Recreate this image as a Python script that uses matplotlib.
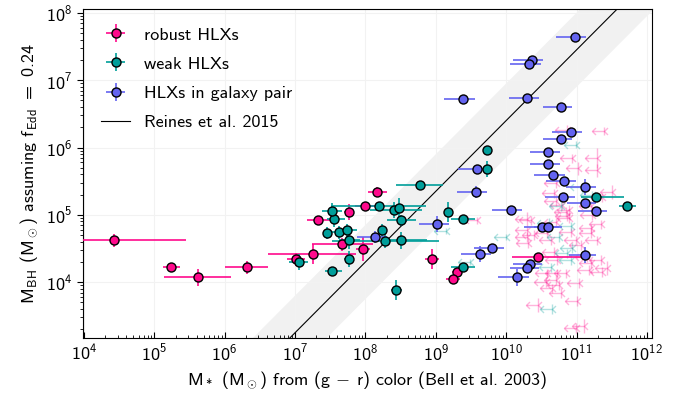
import numpy as np
import matplotlib.pyplot as plt
from matplotlib.path import Path

plt.rcParams['font.family'] = 'cmss10'
plt.rcParams['mathtext.fontset'] = 'custom'
plt.rcParams['mathtext.rm'] = 'cmss10'
plt.rcParams['mathtext.it'] = 'cmss10'
plt.rcParams['mathtext.bf'] = 'cmss10'
plt.rcParams['mathtext.sf'] = 'cmss10'
plt.rcParams['axes.unicode_minus'] = False

# log10 values; x errors in dex (low, high), y errors in dex
robust_lx = [4.43, 5.23, 5.62, 6.31, 7.01, 7.25, 7.67, 7.96, 7.33, 7.76, 8.00, 8.17, 8.94, 9.30, 9.25, 10.45]
robust_ly = [4.62, 4.22, 4.07, 4.22, 4.34, 4.42, 4.56, 4.49, 4.92, 5.04, 5.13, 5.34, 4.34, 4.15, 4.04, 4.37]
robust_xlo = [2.0, 0.11, 0.48, 0.31, 0.13, 0.64, 0.43, 0.09, 0.16, 0.07, 0.15, 0.13, 0.10, 0.07, 0.10, 0.37]
robust_xhi = [1.02, 0.13, 0.47, 0.31, 0.13, 0.62, 0.43, 0.10, 0.20, 0.07, 0.15, 0.13, 0.10, 0.07, 0.10, 0.62]
robust_ye = [0.10, 0.07, 0.12, 0.10, 0.10, 0.15, 0.10, 0.18, 0.07, 0.12, 0.06, 0.07, 0.15, 0.07, 0.07, 0.07]

weak_lx = [7.05, 7.53, 7.77, 7.77, 8.28, 8.51, 7.46, 7.63, 7.74, 7.55, 7.52, 8.19, 8.40,
           8.47, 8.51, 8.24, 8.77, 9.73, 9.73, 9.18, 9.39, 8.44, 9.39, 11.28, 11.72]
weak_ly = [4.30, 4.16, 4.34, 4.62, 4.61, 4.62, 4.73, 4.74, 4.77, 4.94, 5.05, 5.13, 5.07,
           5.10, 4.92, 4.77, 5.44, 5.96, 5.68, 5.04, 4.94, 3.88, 4.22, 5.26, 5.13]
weak_xlo = [0.13, 0.10, 0.07, 0.15, 0.76, 0.21, 0.05, 0.10, 0.07, 0.10, 0.14, 0.68, 0.34,
            0.05, 0.21, 0.05, 0.33, 0.05, 0.05, 0.05, 0.17, 0.08, 0.17, 0.21, 0.11]
weak_xhi = [0.13, 0.13, 0.07, 0.15, 0.77, 0.37, 0.05, 0.18, 0.14, 0.16, 0.14, 0.67, 0.40,
            0.05, 0.21, 0.05, 0.33, 0.05, 0.05, 0.05, 0.16, 0.08, 0.16, 0.40, 0.13]
weak_ye = [0.12, 0.06, 0.12, 0.12, 0.10, 0.12, 0.09, 0.10, 0.10, 0.12, 0.12, 0.06, 0.12,
           0.15, 0.08, 0.10, 0.05, 0.05, 0.12, 0.15, 0.05, 0.15, 0.05, 0.05, 0.06]

pair_lx = [8.13, 9.02, 9.59, 9.57, 9.80, 9.63, 10.07, 10.51, 10.60, 11.12, 10.34, 10.30, 10.16, 10.98, 10.37,
           10.33, 9.39, 10.30, 10.78, 10.92, 10.78, 10.60, 10.60, 10.67, 10.82, 11.12, 10.81, 11.12, 11.28]
pair_ly = [4.67, 4.86, 5.68, 5.34, 4.51, 4.42, 5.07, 4.82, 4.82, 4.40, 4.27, 4.21, 4.07, 7.64, 7.30,
           7.24, 6.72, 6.73, 6.60, 6.23, 6.12, 5.93, 5.75, 5.59, 5.50, 5.41, 5.26, 5.17, 5.05]
pair_xlo = [0.25, 0.26, 0.27, 0.27, 0.26, 0.27, 0.27, 0.26, 0.20, 0.23, 0.25, 0.25, 0.27, 0.27, 0.27,
            0.27, 0.27, 0.26, 0.26, 0.27, 0.26, 0.26, 0.26, 0.27, 0.26, 0.27, 0.26, 0.26, 0.26]
pair_xhi = [0.17, 0.17, 0.17, 0.16, 0.17, 0.16, 0.16, 0.24, 0.20, 0.16, 0.17, 0.17, 0.17, 0.16, 0.16,
            0.16, 0.16, 0.17, 0.16, 0.16, 0.16, 0.17, 0.17, 0.16, 0.17, 0.16, 0.17, 0.16, 0.16]
pair_ye = [0.09, 0.12, 0.04, 0.09, 0.04, 0.12, 0.04, 0.04, 0.04, 0.12, 0.04, 0.04, 0.12, 0.04, 0.04,
           0.04, 0.04, 0.04, 0.04, 0.04, 0.04, 0.04, 0.04, 0.04, 0.04, 0.12, 0.04, 0.04, 0.04]

# upper limits on stellar mass (arrows)
ul_pink_lx = [10.87, 11.39, 10.94, 11.29, 11.02, 11.29, 10.71, 10.68, 11.50, 10.71, 11.36, 11.21, 10.85, 10.89,
              11.22, 11.35, 10.71, 10.30, 10.30, 10.30, 10.31, 10.40, 10.58, 10.64, 10.92, 10.99, 11.06, 11.21,
              11.29, 11.21, 10.87, 10.68, 10.72, 11.15, 11.21, 11.35, 11.43, 11.18, 10.58, 10.72, 10.85, 10.57,
              10.71, 10.75, 11.04, 10.45, 11.01, 10.99, 11.11, 11.36, 10.65, 10.78, 10.79, 10.89, 10.35, 9.59]
ul_pink_ly = [6.26, 6.24, 5.84, 5.84, 5.69, 5.66, 5.47, 5.32, 5.34, 5.20, 5.26, 5.13, 5.04, 4.95,
              5.00, 4.86, 4.89, 4.94, 4.77, 4.67, 4.58, 4.70, 4.73, 4.62, 4.74, 4.62, 4.55, 4.73,
              4.62, 4.80, 4.98, 4.45, 4.33, 4.37, 4.28, 4.33, 4.21, 4.18, 4.13, 4.13, 4.13, 4.00,
              4.03, 3.96, 3.99, 3.66, 3.72, 3.32, 3.35, 4.15, 3.91, 3.84, 5.14, 5.07, 4.92, 4.92]
ul_pink_ye = [0.07, 0.06, 0.07, 0.15, 0.10, 0.10, 0.07, 0.07, 0.10, 0.07, 0.07, 0.07, 0.07, 0.07,
              0.07, 0.07, 0.07, 0.10, 0.07, 0.07, 0.07, 0.07, 0.07, 0.07, 0.07, 0.07, 0.07, 0.07,
              0.07, 0.07, 0.07, 0.07, 0.07, 0.07, 0.07, 0.07, 0.10, 0.07, 0.07, 0.07, 0.07, 0.07,
              0.07, 0.07, 0.07, 0.10, 0.08, 0.07, 0.10, 0.07, 0.07, 0.07, 0.07, 0.07, 0.07, 0.05]
ul_teal_lx = [10.99, 11.08, 11.22, 10.78, 10.61, 10.00, 10.75, 10.92, 10.94, 10.87, 10.92, 10.64, 10.65, 9.15, 9.48]
ul_teal_ly = [6.04, 5.41, 5.29, 5.13, 4.88, 4.67, 4.67, 4.83, 4.51, 4.43, 4.33, 4.22, 3.60, 4.76, 4.30]
ul_teal_ye = [0.05, 0.07, 0.07, 0.07, 0.07, 0.05, 0.07, 0.07, 0.07, 0.07, 0.07, 0.07, 0.08, 0.05, 0.05]

pink = '#ff0a8c'
teal = '#009e9a'
blue = '#6464f0'

fig = plt.figure(figsize=(6.89, 4.01), dpi=100)
ax = fig.add_axes([0.1205, 0.157, 0.8255, 0.821])
ax.set_xscale('log')
ax.set_yscale('log')

# Reines et al. 2015 relation with scatter
xs = np.logspace(3.5, 12.5, 200)
lbh = 7.45 + 1.05 * (np.log10(xs) - 11)
ax.fill_between(xs, 10**(lbh - 0.55), 10**(lbh + 0.55), color='#f1f1f1', lw=0, zorder=0.5)
reines, = ax.plot(xs, 10**lbh, color='k', lw=0.8, zorder=1)

# open arrow head, tip at the end of the bar
arrow_head = Path([(1, 1), (0, 0), (1, -1)], [Path.MOVETO, Path.LINETO, Path.LINETO])


def lin_err(lv, lo, hi):
    lv = np.asarray(lv)
    v = 10**lv
    return v, [v - 10**(lv - np.asarray(lo)), 10**(lv + np.asarray(hi)) - v]


def upper_limits(lx, ly, ye, c):
    x = 10**np.asarray(lx)
    y, yerr = lin_err(ly, ye, ye)
    eb = ax.errorbar(x, y, xerr=x * (1 - 10**-0.17), xuplims=True, fmt='none', ecolor=c,
                     alpha=0.3, elinewidth=1, capsize=3, zorder=1.5)
    for cl in eb[1]:
        cl.set_marker(arrow_head)
        cl.set_markersize(5)
        cl.set_markerfacecolor('none')
        cl.set_markeredgecolor(c)
        cl.set_markeredgewidth(1)
    ax.errorbar(x, y, yerr=yerr, fmt='none', ecolor=c, alpha=0.3, elinewidth=1, capsize=0, zorder=1.5)


upper_limits(ul_pink_lx, ul_pink_ly, ul_pink_ye, pink)
upper_limits(ul_teal_lx, ul_teal_ly, ul_teal_ye, teal)

groups = [
    (robust_lx, robust_ly, robust_xlo, robust_xhi, robust_ye, pink, 'robust HLXs'),
    (weak_lx, weak_ly, weak_xlo, weak_xhi, weak_ye, teal, 'weak HLXs'),
    (pair_lx, pair_ly, pair_xlo, pair_xhi, pair_ye, blue, 'HLXs in galaxy pair'),
]
handles = []
for lx, ly, xlo, xhi, ye, c, lab in groups:
    x, xerr = lin_err(lx, xlo, xhi)
    y, yerr = lin_err(ly, ye, ye)
    h = ax.errorbar(x, y, xerr=xerr, yerr=yerr, fmt='o', ms=6.5, mfc=c, mec='k', mew=1,
                    ecolor=c, elinewidth=1.2, capsize=0, zorder=3)
    handles.append(h)

ax.legend(handles + [reines], ['robust HLXs', 'weak HLXs', 'HLXs in galaxy pair', 'Reines et al. 2015'],
          loc='upper left', frameon=False, fontsize=13, handlelength=1.6, borderaxespad=0.6,
          labelspacing=0.75)

ax.set_xlim(10**3.985, 10**12.07)
ax.set_ylim(10**3.17, 10**8.06)
ax.set_xticks([10.0**k for k in range(4, 13)])
ax.set_yticks([10.0**k for k in range(4, 9)])
ax.grid(True, which='major', color='#f2f2f2', lw=0.8)
ax.set_axisbelow(True)
ax.tick_params(axis='x', which='both', direction='in', labelsize=13)
ax.tick_params(axis='y', which='both', direction='out', labelsize=13)
ax.tick_params(which='major', length=4)
ax.tick_params(which='minor', length=2.5)

ax.set_xlabel(r'$\mathrm{M}_*$ ($\mathrm{M}_\odot$) from (g $-$ r) color (Bell et al. 2003)', fontsize=13)
ax.set_ylabel(r'$\mathrm{M}_\mathrm{BH}$ ($\mathrm{M}_\odot$) assuming $\mathrm{f}_\mathrm{Edd}$ $=$ 0.24', fontsize=13)

fig.savefig('out.png', dpi=100)
